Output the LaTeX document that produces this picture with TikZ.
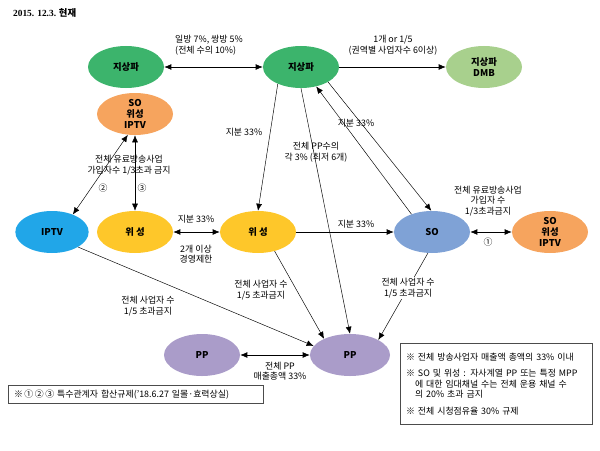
\documentclass[tikz,border=0pt]{standalone}
\usepackage{fontspec}
\setmainfont{Noto Sans CJK KR}
\newfontfamily\datefont{Liberation Serif}
\usepackage{tikz}
\usetikzlibrary{arrows.meta, positioning, shapes.geometric}

\definecolor{tvgreen}{HTML}{3CB46C}
\definecolor{dmbgreen}{HTML}{A8D08D}
\definecolor{mixorange}{HTML}{F6A45E}
\definecolor{iptvblue}{HTML}{21A6E8}
\definecolor{satyellow}{HTML}{FEC72A}
\definecolor{soblue}{HTML}{7FA2D6}
\definecolor{pppurple}{HTML}{AA9CC9}

\begin{document}
\begin{tikzpicture}[x=0.03cm, y=-0.03cm,
  font=\fontsize{7.6}{9}\selectfont,
  biz/.style={ellipse, minimum width=2.28cm, minimum height=1.26cm,
    inner sep=0pt, align=center, font=\fontsize{8}{9.5}\selectfont\bfseries},
  lbl/.style={align=center, inner sep=1pt},
  link/.style={thin, -{Latex[length=6pt,width=5pt]}},
  both/.style={thin, {Latex[length=6pt,width=5pt]}-{Latex[length=6pt,width=5pt]}},
  note/.style={draw=black!70, align=left, inner xsep=5pt, inner ysep=3pt}
]
  % canvas in pixels of the original chart (y downward)
  \useasboundingbox (0,0) rectangle (600,450);

  \node[anchor=west, font=\fontsize{8}{9}\selectfont\bfseries] (title) at (9,13) {{\datefont 2015. 12.3.} 현재};

  % Operators
  \node[biz, fill=tvgreen]   (tvL)    at (126,67)  {지상파};
  \node[biz, fill=tvgreen]   (tvC)    at (301,67)  {지상파};
  \node[biz, fill=dmbgreen]  (dmb)    at (484,67)  {지상파\\DMB};
  \node[biz, fill=mixorange] (mixL)   at (135,114) {SO\\위성\\IPTV};
  \node[biz, fill=iptvblue, minimum width=2.2cm] (iptv) at (52,232) {IPTV};
  \node[biz, fill=satyellow] (satL)   at (135,232) {위 성};
  \node[biz, fill=satyellow] (satM)   at (258,232) {위 성};
  \node[biz, fill=soblue]    (so)     at (432,232) {SO};
  \node[biz, fill=mixorange] (mixR)   at (550,232) {SO\\위성\\IPTV};
  \node[biz, fill=pppurple]  (ppL)    at (202,355) {PP};
  \node[biz, fill=pppurple, minimum width=2.4cm] (ppR) at (350,355) {PP};

  % Terrestrial links
  \draw[both, semithick] (tvL) -- (tvC);
  \draw[link, semithick] (tvC) -- (dmb);
  \draw[link] (tvC.216) -- (satM.north);
  \draw[link] (tvC.south) -- (ppR.north);
  \draw[link] (so.139) -- (tvC.308);
  \draw[link] (tvC.331) -- (so.92);

  % Paid TV links
  \draw[both] (iptv.40) -- (mixL.251);
  \draw[both] (satL.north) -- (mixL.south);
  \draw[both, semithick] (satL) -- (satM);
  \draw[link, semithick] (satM) -- (so);
  \draw[both, semithick] (so) -- (mixR);

  % Links to PP
  \draw[link] (iptv.330) -- (ppR.166);
  \draw[link] (satM.311) -- (ppR.148);
  \draw[link] (so.259) -- node[lbl, fill=white, pos=0.4] (soPPtxt) {전체 사업자 수\\1/5 초과금지} (ppR.28);
  \draw[both, semithick] (ppL) -- (ppR);

  % Labels
  \node[lbl, align=left] (tvTxt)  at (209,45)  {일방 7\%, 쌍방 5\%\\(전체 수의 10\%)};
  \node[lbl] (dmbTxt) at (393,45)  {1개 or 1/5\\(권역별 사업자수 6이상)};
  \node[lbl] (satTxt) at (244,132) {지분 33\%};
  \node[lbl] (ppTxt)  at (316,152) {전체 PP수의\\각 3\% (최저 6개)};
  \node[lbl] (soTxt)  at (356,123) {지분 33\%};
  \node[lbl] (capL)   at (129,165) {전체 유료방송사업\\가입자수 1/3초과 금지};
  \node[lbl] (two)    at (103,188) {②};
  \node[lbl] (three)  at (142,188) {③};
  \node[lbl] (satLM)  at (196,219) {지분 33\%};
  \node[lbl] (mgmt)   at (196,254) {2개 이상\\경영제한};
  \node[lbl] (satSO)  at (356,224) {지분 33\%};
  \node[lbl] (capR)   at (488,201) {전체 유료방송사업\\가입자 수\\1/3초과금지};
  \node[lbl] (one)    at (488,242) {①};
  \node[lbl] (iptvPP) at (148,306) {전체 사업자 수\\1/5 초과금지};
  \node[lbl] (satPP)  at (261,290) {전체 사업자 수\\1/5 초과금지};
  \node[lbl] (ppPP)   at (280,371) {전체 PP\\매출총액 33\%};

  % Notes
  \node[note, anchor=north west, text width=7.3cm, minimum height=0.54cm] (sunset) at (8,385)
    {※\,①\,②\,③ 특수관계자 합산규제('18.6.27 일몰·효력상실)};
  \node[note, anchor=north west, text width=5.4cm, minimum height=2.43cm] (rules) at (400,343)
    {※ 전체 방송사업자 매출액 총액의 33\% 이내\\[5pt]
     ※ SO 및 위성 : 자사계열 PP 또는 특정 MPP\\
     \hspace*{1em}에 대한 임대채널 수는 전체 운용 채널 수\\
     \hspace*{1em}의 20\% 초과 금지\\[5pt]
     ※ 전체 시청점유율 30\% 규제};
\end{tikzpicture}
\end{document}
